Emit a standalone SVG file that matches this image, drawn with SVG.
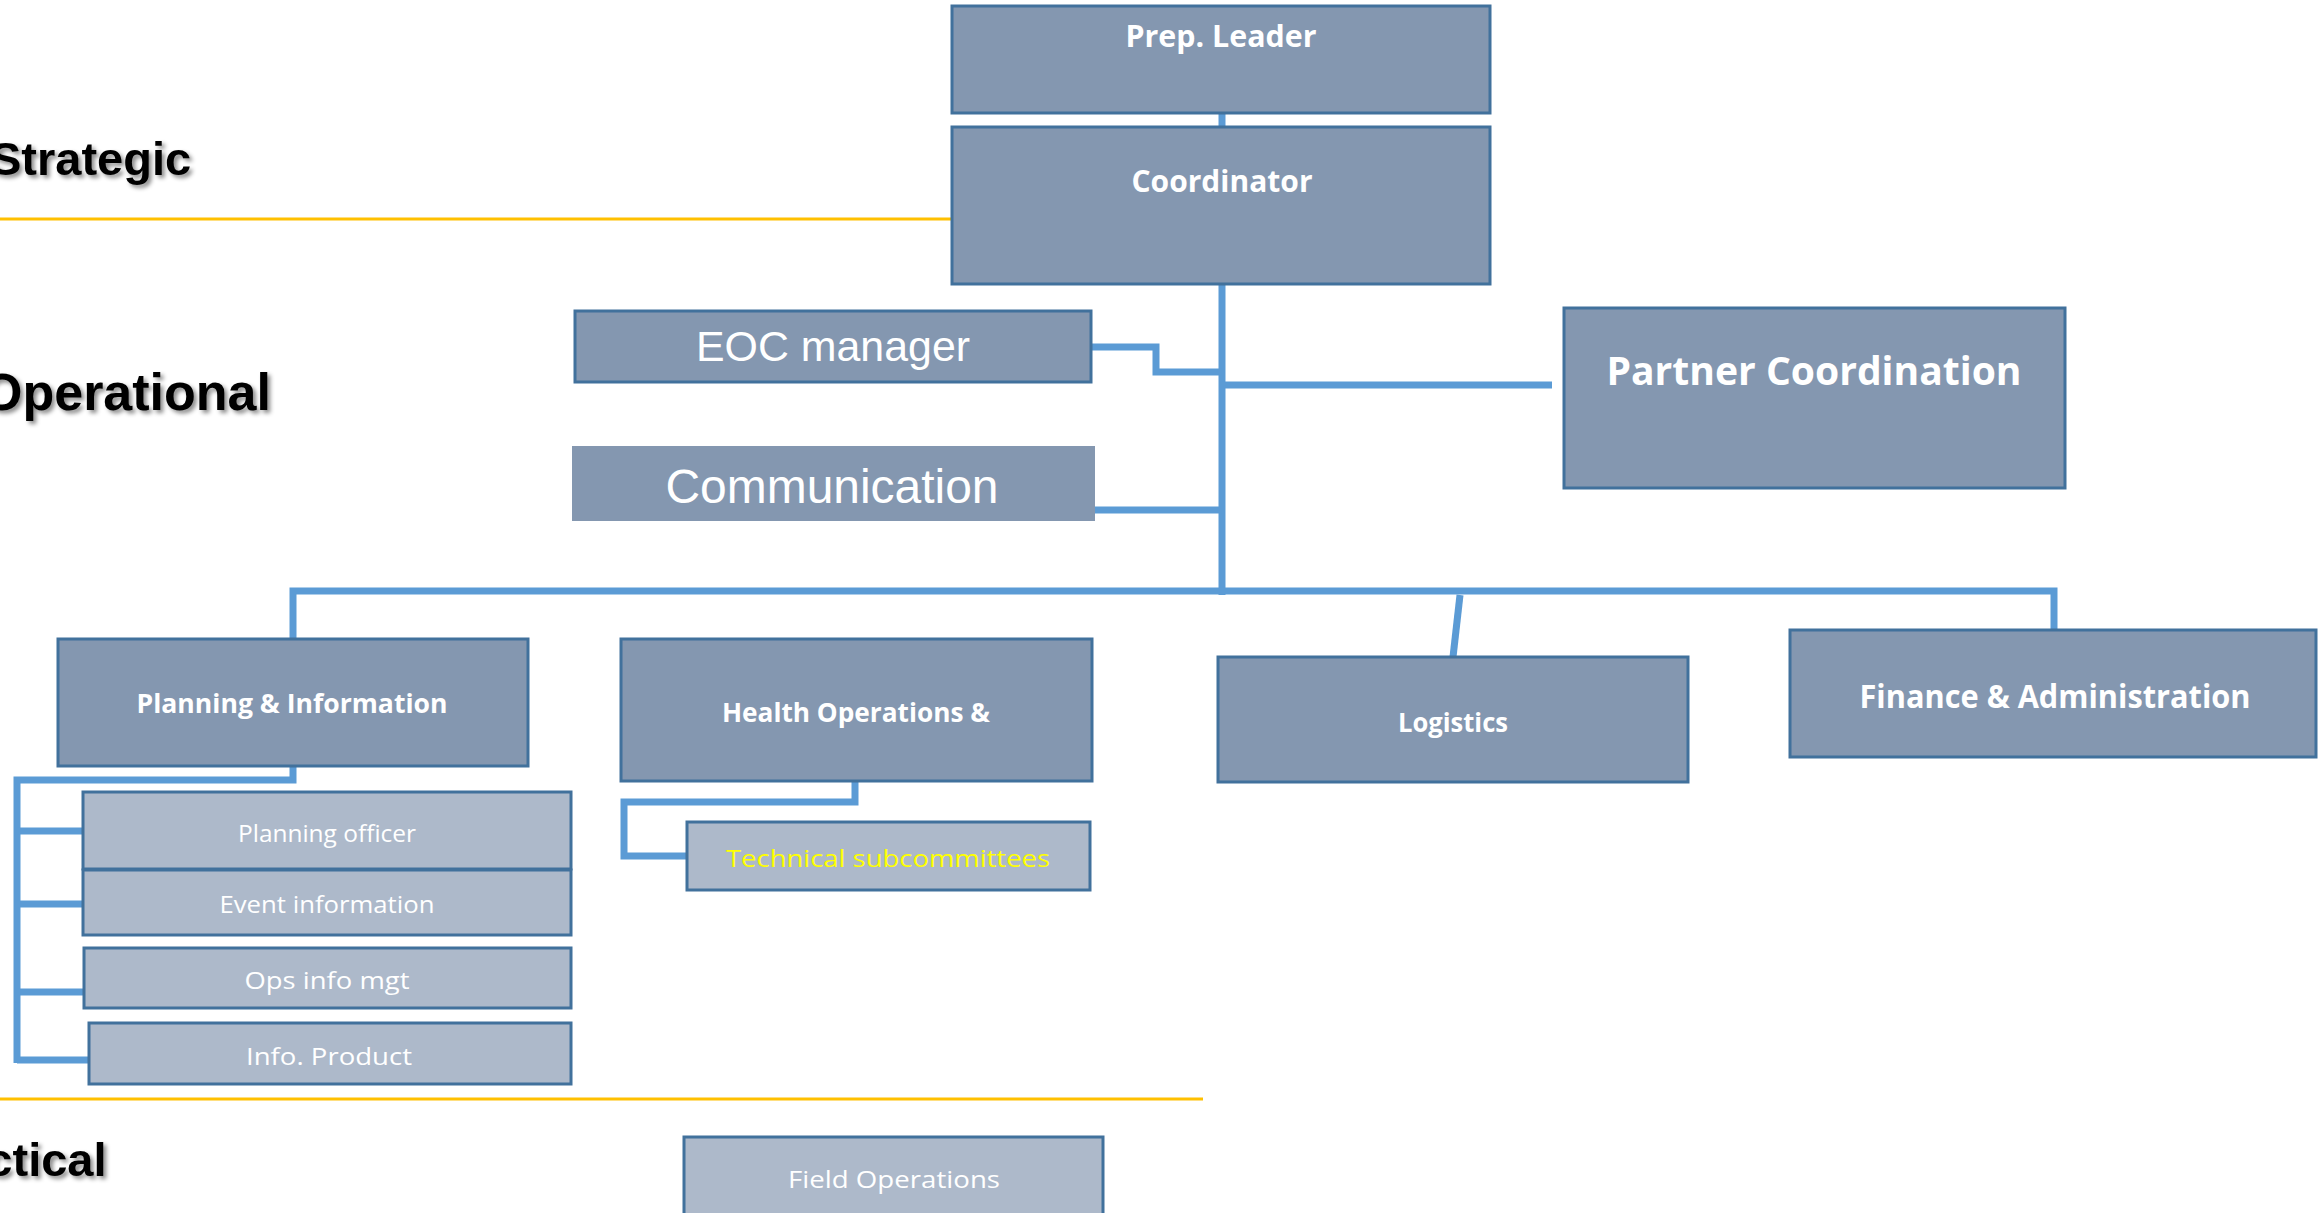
<svg xmlns="http://www.w3.org/2000/svg" width="2323" height="1213" viewBox="0 0 2323 1213">
<defs>
<style>
.box{fill:#8497B0;stroke:#41719C;stroke-width:3}
.sub{fill:#ADB9CA;stroke:#41719C;stroke-width:3}
.bt{font-family:"Open Sans","Liberation Sans",sans-serif;font-weight:700;fill:#fff;text-anchor:middle}
.st{font-family:"Open Sans","Liberation Sans",sans-serif;font-weight:400;fill:#fff;text-anchor:middle;font-size:24px}
.at{font-family:"Liberation Sans",Arial,sans-serif;fill:#fff;text-anchor:middle}
.lvl{font-family:"Liberation Sans",Arial,sans-serif;font-weight:700;fill:#000}
.con{fill:none;stroke:#5B9BD5;stroke-width:7}
.yl{stroke:#FFC000;stroke-width:3}
</style>
<filter id="sh" x="-10%" y="-20%" width="130%" height="150%">
<feDropShadow dx="3" dy="3" stdDeviation="2" flood-color="#000" flood-opacity="0.45"/>
</filter>
</defs>
<rect width="2323" height="1213" fill="#fff"/>

<g id="levels">
<line class="yl" x1="0" y1="219" x2="952" y2="219"/>
<line class="yl" x1="0" y1="1099" x2="1203" y2="1099"/>
<text class="lvl" x="-10" y="175" font-size="47" filter="url(#sh)">Strategic</text>
<text class="lvl" x="-18" y="410" font-size="52" filter="url(#sh)">Operational</text>
<text class="lvl" x="-65" y="1176" font-size="47" filter="url(#sh)">Tactical</text>
</g>

<g id="connectors">
<line class="con" x1="1222" y1="113" x2="1222" y2="127"/>
<line class="con" x1="1222" y1="284" x2="1222" y2="595" stroke-width="6"/>
<polyline class="con" points="1091,347 1156,347 1156,372 1222,372"/>
<line class="con" x1="1222" y1="385" x2="1552" y2="385"/>
<line class="con" x1="1095" y1="510" x2="1222" y2="510"/>
<polyline class="con" points="293,638 293,591 2054,591 2054,630"/>
<line class="con" x1="1460" y1="595" x2="1453" y2="657" stroke-width="6"/>
<polyline class="con" points="293,766 293,780 17,780 17,1063"/>
<line class="con" x1="17" y1="831" x2="83" y2="831"/>
<line class="con" x1="17" y1="904" x2="83" y2="904"/>
<line class="con" x1="17" y1="992" x2="84" y2="992"/>
<line class="con" x1="17" y1="1060" x2="89" y2="1060"/>
<polyline class="con" points="855,782 855,802 624,802 624,856 686,856"/>
</g>

<g id="prep-leader">
<rect class="box" x="952" y="6" width="538" height="107"/>
<text class="bt" x="1221" y="47" font-size="31" textLength="191" lengthAdjust="spacingAndGlyphs">Prep. Leader</text>
</g>
<g id="coordinator">
<rect class="box" x="952" y="127" width="538" height="157"/>
<text class="bt" x="1222" y="192" font-size="31" textLength="181" lengthAdjust="spacingAndGlyphs">Coordinator</text>
</g>
<g id="eoc-manager">
<rect class="box" x="575" y="311" width="516" height="71" stroke="#2F528F" stroke-width="2"/>
<text class="at" x="833" y="361" font-size="42" textLength="274" lengthAdjust="spacingAndGlyphs">EOC manager</text>
</g>
<g id="communication">
<rect x="572" y="446" width="523" height="75" fill="#8497B0"/>
<text class="at" x="832" y="503" font-size="48" textLength="333" lengthAdjust="spacingAndGlyphs">Communication</text>
</g>
<g id="partner-coordination">
<rect class="box" x="1564" y="308" width="501" height="180"/>
<text class="bt" x="1814" y="385" font-size="40" textLength="415" lengthAdjust="spacingAndGlyphs">Partner Coordination</text>
</g>
<g id="planning-information">
<rect class="box" x="58" y="639" width="470" height="127"/>
<text class="bt" x="292" y="713" font-size="27" textLength="311" lengthAdjust="spacingAndGlyphs">Planning &amp; Information</text>
</g>
<g id="health-operations">
<rect class="box" x="621" y="639" width="471" height="142"/>
<text class="bt" x="856" y="722" font-size="27" textLength="268" lengthAdjust="spacingAndGlyphs">Health Operations &amp;</text>
</g>
<g id="logistics">
<rect class="box" x="1218" y="657" width="470" height="125"/>
<text class="bt" x="1453" y="732" font-size="27" textLength="110" lengthAdjust="spacingAndGlyphs">Logistics</text>
</g>
<g id="finance-administration">
<rect class="box" x="1790" y="630" width="526" height="127"/>
<text class="bt" x="2055" y="708" font-size="32" textLength="391" lengthAdjust="spacingAndGlyphs">Finance &amp; Administration</text>
</g>
<g id="planning-officer">
<rect class="sub" x="83" y="792" width="488" height="77"/>
<text class="st" x="327" y="842" textLength="178" lengthAdjust="spacingAndGlyphs">Planning officer</text>
</g>
<g id="event-information">
<rect class="sub" x="83" y="870" width="488" height="65"/>
<text class="st" x="327" y="913" textLength="215" lengthAdjust="spacingAndGlyphs">Event information</text>
</g>
<g id="ops-info-mgt">
<rect class="sub" x="84" y="948" width="487" height="60"/>
<text class="st" x="327" y="989" font-size="25" textLength="165" lengthAdjust="spacingAndGlyphs">Ops info mgt</text>
</g>
<g id="info-product">
<rect class="sub" x="89" y="1023" width="482" height="61"/>
<text class="st" x="329" y="1065" font-size="25" textLength="166" lengthAdjust="spacingAndGlyphs">Info. Product</text>
</g>
<g id="technical-subcommittees">
<rect class="sub" x="687" y="822" width="403" height="68"/>
<text class="st" x="888" y="867" font-size="26" style="fill:#FFFF00" textLength="324" lengthAdjust="spacingAndGlyphs">Technical subcommittees</text>
</g>
<g id="field-operations">
<rect class="sub" x="684" y="1137" width="419" height="90"/>
<text class="st" x="894" y="1188" font-size="25" textLength="212" lengthAdjust="spacingAndGlyphs">Field Operations</text>
</g>
</svg>
